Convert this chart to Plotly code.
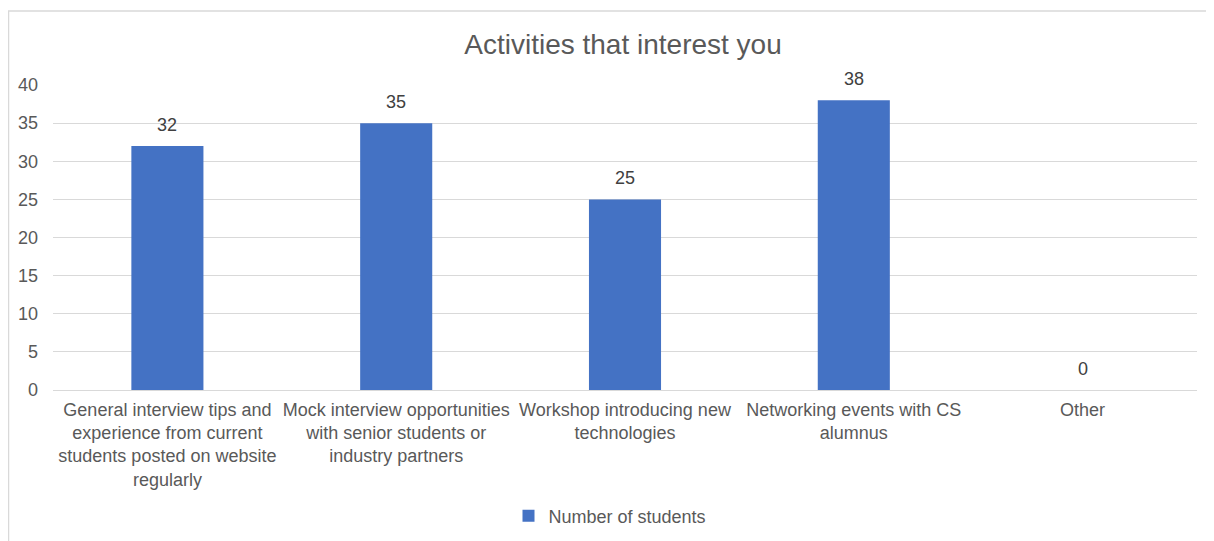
import plotly.graph_objects as go

categories = [
    "General interview tips and<br>experience from current<br>students posted on website<br>regularly",
    "Mock interview opportunities<br>with senior students or<br>industry partners",
    "Workshop introducing new<br>technologies",
    "Networking events with CS<br>alumnus",
    "Other",
]
values = [32, 35, 25, 38, 0]
series_name = "Number of students"
y_ticks = [0, 5, 10, 15, 20, 25, 30, 35, 40]

# page has an 8px body margin; work in page coordinates shifted by 8
OFF = 8
W, H = 1214 - OFF, 541 - OFF
L, T = 53 - OFF, 85 - OFF
plot_right, plot_bottom = 1197 - OFF, 390 - OFF
R, B = W - plot_right, H - plot_bottom
pw, ph = plot_right - L, plot_bottom - T

fig = go.Figure()
fig.add_trace(go.Bar(
    x=categories, y=values, name=series_name,
    marker=dict(color="#4472C4", line=dict(width=0)),
    showlegend=True,
))
for c, v in zip(categories, values):
    fig.add_annotation(x=c, y=v, text=str(v), showarrow=False,
                       yanchor="middle", yshift=21,
                       font=dict(size=18, color="#404040"))

fig.update_layout(
    width=W, height=H,
    margin=dict(l=L, r=R, t=T, b=B, autoexpand=False),
    paper_bgcolor="white", plot_bgcolor="white",
    font=dict(family="Liberation Sans, Arial, sans-serif", size=18, color="#595959"),
    title=dict(text="Activities that interest you", x=(623 - OFF) / W, xanchor="center",
               y=1 - (44 - OFF) / H, yanchor="middle",
               font=dict(size=28, color="#595959")),
    bargap=0.685,
    xaxis=dict(showgrid=False, showline=True, linecolor="#D9D9D9", linewidth=1,
               ticks="", tickfont=dict(size=18, color="#595959"), ticklabelstandoff=3),
    yaxis=dict(range=[0, 40], tickvals=y_ticks, showgrid=True, gridcolor="#D9D9D9",
               gridwidth=1, zeroline=False, ticks="", showline=False,
               tickfont=dict(size=18, color="#595959"), ticklabelstandoff=14),
    legend=dict(orientation="h", xref="container", x=(610 - OFF) / W, xanchor="center",
                yref="container", y=1 - (516 - OFF) / H,
                yanchor="middle", font=dict(size=18, color="#595959")),
    shapes=[dict(type="rect", xref="paper", yref="paper",
                 x0=(0.5 - L) / pw, x1=(1230 - L) / pw,
                 y0=-(600 - plot_bottom) / ph, y1=1 + (T - (11 - OFF)) / ph,
                 line=dict(color="#D9D9D9", width=1.5), layer="below")],
)

fig.write_html("out.html")
